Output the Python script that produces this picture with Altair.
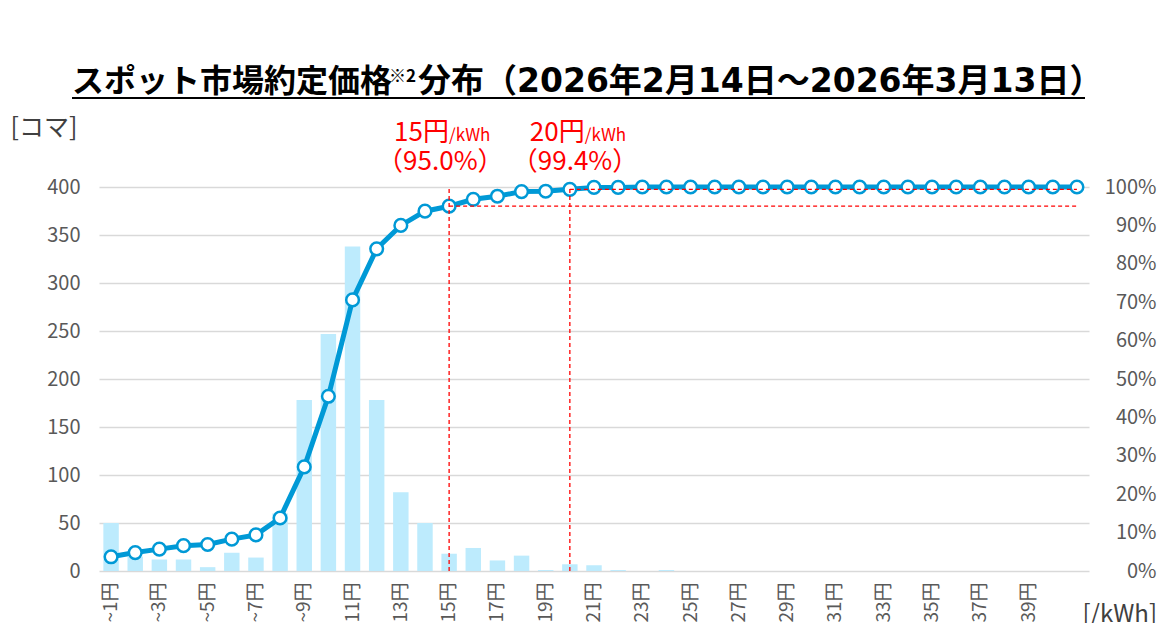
import altair as alt
import pandas as pd

# ---------------- data ----------------
cats = ["~1円", "~2円", "~3円", "~4円", "~5円", "~6円", "~7円", "~8円", "~9円", "~10円",
        "~11円", "~12円", "~13円", "~14円", "~15円", "~16円", "~17円", "~18円", "~19円", "~20円",
        "~21円", "~22円", "~23円", "~24円", "~25円", "~26円", "~27円", "~28円", "~29円", "~30円",
        "~31円", "~32円", "~33円", "~34円", "~35円", "~36円", "~37円", "~38円", "~39円", "~40円",
        "40円~"]
label_vals = ["~1円", "~3円", "~5円", "~7円", "~9円", "~11円", "~13円", "~15円", "~17円", "~19円",
              "~21円", "~23円", "~25円", "~27円", "~29円", "~31円", "~33円", "~35円", "~37円", "~39円"]
counts = [50, 15, 12, 12, 4, 19, 14, 60, 178, 247,
          338, 178, 82, 50, 18, 24, 11, 16, 1, 7,
          6, 1, 0, 1, 0, 0, 0, 0, 0, 0,
          0, 0, 0, 0, 0, 0, 0, 0, 0, 0,
          0]
cum_pct = [3.7, 4.8, 5.7, 6.6, 6.9, 8.3, 9.4, 13.8, 27.1, 45.5,
           70.6, 83.9, 90.0, 93.7, 95.0, 96.8, 97.6, 98.8, 98.9, 99.4,
           99.9, 99.9, 100, 100, 100, 100, 100, 100, 100, 100,
           100, 100, 100, 100, 100, 100, 100, 100, 100, 100,
           100]
mark_cats = ["~15円", "~20円"]
mark_pcts = [95.0, 99.4]
mark_prices = ["15円", "20円"]
mark_labels = ["（95.0%）", "（99.4%）"]
title_a = "スポット市場約定価格"
title_sup = "※2"
title_b = "分布（2026年2月14日～2026年3月13日）"

# ---------------- styles ----------------
FONT = "Noto Sans CJK JP"
BLUE = "#0099d6"
BAR = "#bdebfd"
RED = "#ff0000"
GRAY = "#595959"
DARK = "#404040"

df = pd.DataFrame({"cat": cats, "count": counts, "cum": cum_pct})
rules_df = pd.DataFrame({"cat": mark_cats, "pct": mark_pcts,
                         "end": [cats[-1]] * len(mark_cats),
                         "lo": [0] * len(mark_cats), "hi": [100] * len(mark_cats)})

x_enc = alt.X(
    "cat:N", sort=cats,
    scale=alt.Scale(domain=cats, paddingInner=0.36, paddingOuter=0.18),
    axis=alt.Axis(values=label_vals, labelAngle=270, labelFontSize=19, labelColor=GRAY,
                  labelFont=FONT, labelPadding=11, ticks=False, domain=False, grid=False,
                  labelOverlap=False, title="[/kWh]", titleAngle=0, titleX=983, titleY=50,
                  titleAlign="left", titleBaseline="alphabetic", titleFontSize=24,
                  titleFontWeight="normal", titleColor=DARK, titleFont=FONT),
)

left_axis = alt.Axis(values=list(range(0, 401, 50)), ticks=False, domain=False, grid=True,
                     gridColor="#d9d9d9", gridWidth=1.6, labelFontSize=20, labelColor=GRAY,
                     labelFont=FONT, labelPadding=19, title="[コマ]", titleAngle=0,
                     titleX=-89, titleY=-52, titleAlign="left", titleBaseline="alphabetic",
                     titleFontSize=25, titleFontWeight="normal", titleColor=DARK, titleFont=FONT)
right_axis = alt.Axis(orient="right", values=list(range(0, 101, 10)),
                      labelExpr="datum.value + '%'", ticks=False, domain=False, grid=False,
                      labelPadding=67, labelAlign="right", labelFontSize=20, labelColor=GRAY,
                      labelFont=FONT, title=None)
r_scale = alt.Scale(domain=[0, 100])

bars = alt.Chart(df).mark_bar(color=BAR).encode(
    x=x_enc,
    y=alt.Y("count:Q", scale=alt.Scale(domain=[0, 400]), axis=left_axis),
)

line = alt.Chart(df).mark_line(color=BLUE, strokeWidth=5).encode(
    x=x_enc, y=alt.Y("cum:Q", scale=r_scale, axis=right_axis))
points = alt.Chart(df).mark_point(shape="circle", filled=True, fill="white", stroke=BLUE,
                                  strokeWidth=2.5, size=160, opacity=1).encode(
    x=x_enc, y=alt.Y("cum:Q", scale=r_scale, axis=right_axis))
vrules = alt.Chart(rules_df).mark_rule(color=RED, strokeDash=[4, 3], strokeWidth=1.3).encode(
    x=x_enc, y=alt.Y("lo:Q", scale=r_scale, axis=right_axis), y2="hi:Q")
hrules = alt.Chart(rules_df).mark_rule(color=RED, strokeDash=[4, 3], strokeWidth=1.3).encode(
    x=x_enc, x2="end:N", y=alt.Y("pct:Q", scale=r_scale, axis=right_axis))

ann_layers = []
for i, (dx_price, dx_unit, dx_lab) in enumerate([(-55, 0, -72), (-40, 15, -58)]):
    row = pd.DataFrame({"cat": [mark_cats[i]], "price": [mark_prices[i]],
                        "unit": ["/kWh"], "lab": [mark_labels[i]]})
    base = alt.Chart(row)
    ann_layers.append(base.mark_text(align="left", baseline="alphabetic", fontSize=26, font=FONT,
                                     color=RED, dx=dx_price).encode(x=x_enc, y=alt.value(-46), text="price:N"))
    ann_layers.append(base.mark_text(align="left", baseline="alphabetic", fontSize=17, font=FONT,
                                     color=RED, dx=dx_unit).encode(x=x_enc, y=alt.value(-46), text="unit:N"))
    ann_layers.append(base.mark_text(align="left", baseline="alphabetic", fontSize=26, font=FONT,
                                     color=RED, dx=dx_lab).encode(x=x_enc, y=alt.value(-17), text="lab:N"))

t1 = alt.Chart(pd.DataFrame({"t": [title_a]})).mark_text(
    align="left", baseline="alphabetic", fontSize=32, fontWeight="bold", font=FONT, color="black"
).encode(x=alt.value(-27), y=alt.value(-95), text="t:N")
t2 = alt.Chart(pd.DataFrame({"t": [title_sup]})).mark_text(
    align="left", baseline="alphabetic", fontSize=17, fontWeight="bold", font=FONT, color="black"
).encode(x=alt.value(290), y=alt.value(-105), text="t:N")
t3 = alt.Chart(pd.DataFrame({"t": [title_b]})).mark_text(
    align="left", baseline="alphabetic", fontSize=33, fontWeight="bold",
    font="DejaVu Sans, Noto Sans CJK JP", color="black"
).encode(x=alt.value(319), y=alt.value(-95), text="t:N")
uline = alt.Chart(pd.DataFrame({"t": [0]})).mark_rule(color="black", strokeWidth=2).encode(
    x=alt.value(-27), x2=alt.value(986), y=alt.value(-89))

left = alt.layer(bars)
right = alt.layer(line, points, vrules, hrules, *ann_layers, t1, t2, t3, uline)

chart = alt.layer(left, right).resolve_scale(y="independent").properties(
    width=990, height=384,
    autosize=alt.AutoSizeParams(type="none"),
    padding={"left": 91, "top": 179, "right": 68, "bottom": 52},
).configure_view(stroke=None)

chart.save("out.html", embed_options={"renderer": "svg", "actions": False})
